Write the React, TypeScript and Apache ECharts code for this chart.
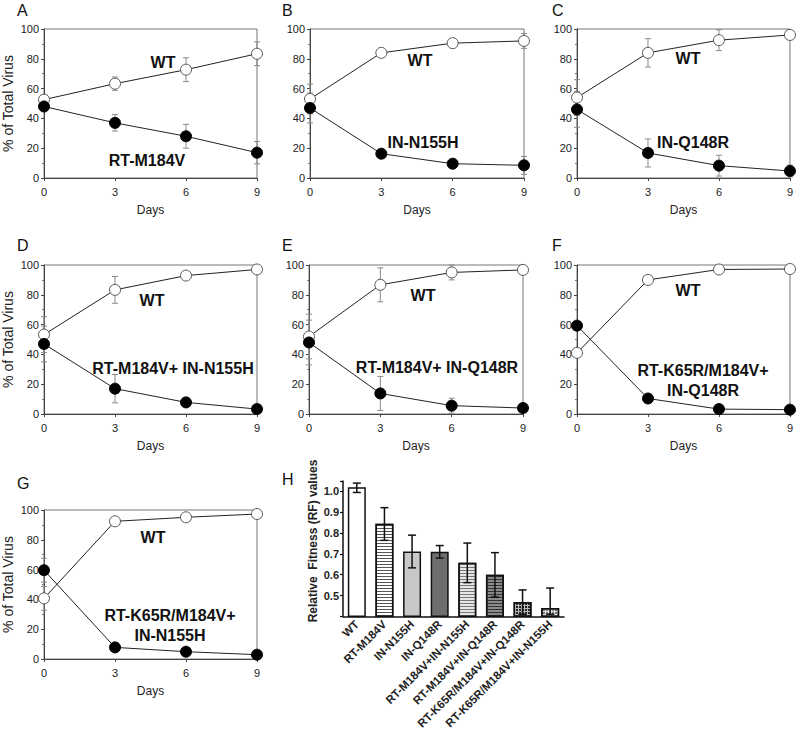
import React, { useEffect, useRef } from 'react';
import * as echarts from 'echarts';

// ---------- data ----------
const days = [0, 3, 6, 9];

const wtA = [52.6, 63.3, 72.7, 83.4];
const wtAErr = [3, 4.5, 8, 8];
const mutA = [48, 37, 28, 17];
const mutAErr = [3, 5.5, 8, 7.5];

const wtB = [53, 84, 90.5, 92];
const wtBErr = [10, 1, 2.5, 5];
const mutB = [47, 16.3, 9.6, 8.5];
const mutBErr = [10, 1.5, 2.5, 6];

const wtC = [54, 84, 92.5, 96];
const wtCErr = [12, 9.5, 7, 3];
const mutC = [46, 16.8, 8.3, 4.7];
const mutCErr = [12, 9.4, 7, 4];

const wtD = [53.3, 83.3, 92.9, 97];
const wtDErr = [12, 9, 1, 1];
const mutD = [47, 17, 7.8, 3.3];
const mutDErr = [12, 9.5, 1, 1];

const wtE = [52, 86.7, 95, 96.7];
const wtEErr = [15, 11.4, 5, 1];
const mutE = [48, 13.8, 5.6, 4];
const mutEErr = [15, 11.4, 5, 1];

const wtF = [41, 90, 97, 97.3];
const wtFErr = [0, 0, 0, 0];
const mutF = [59.3, 10.4, 3.3, 2.9];
const mutFErr = [0, 0, 0, 0];

const wtG = [40.7, 92.4, 95.1, 97.3];
const wtGErr = [8, 0, 0, 0];
const mutG = [59.6, 7.8, 4.9, 2.9];
const mutGErr = [8, 0, 0, 0];

const rfCategories = [
  'WT',
  'RT-M184V',
  'IN-N155H',
  'IN-Q148R',
  'RT-M184V+IN-N155H',
  'RT-M184V+IN-Q148R',
  'RT-K65R/M184V+IN-Q148R',
  'RT-K65R/M184V+IN-N155H',
];
const rfValues = [1.02, 0.845, 0.712, 0.71, 0.658, 0.6, 0.469, 0.44];
const rfLow = [0.995, 0.765, 0.633, 0.68, 0.562, 0.493, 0.41, 0.41];
const rfHigh = [1.04, 0.922, 0.79, 0.74, 0.752, 0.706, 0.527, 0.536];

// ---------- styles / layout ----------
const barStyles: any[] = [
  { color: '#ffffff' },
  { color: '#ffffff', decal: { symbol: 'rect', symbolSize: 1, dashArrayX: [1, 0], dashArrayY: [1, 2], rotation: 0, color: '#555' } },
  { color: '#c8c8c8' },
  { color: '#6e6e6e' },
  { color: '#e6e6e6', decal: { symbol: 'rect', symbolSize: 1, dashArrayX: [1, 0], dashArrayY: [1, 2], rotation: 0, color: '#777' } },
  { color: '#8a8a8a', decal: { symbol: 'rect', symbolSize: 1, dashArrayX: [1, 0], dashArrayY: [1, 2], rotation: 0, color: '#333' } },
  { color: '#bbbbbb', decal: { symbol: 'rect', symbolSize: 1, dashArrayX: [2, 1], dashArrayY: [2, 1], rotation: 0, color: '#222' } },
  { color: '#e0e0e0', decal: { symbol: 'rect', symbolSize: 1, dashArrayX: [2, 1], dashArrayY: [2, 1], rotation: 0, color: '#777' } },
];

type Panel = {
  letter: string;
  lx: number;
  ly: number;
  left: number;
  top: number;
  wt: number[];
  wtErr: number[];
  mut: number[];
  mutErr: number[];
  yName: boolean;
  wtPos: [number, number];
  mutLines: string[];
  mutPos: [number, number];
};

const PW = 214;
const PH = 149;

const panels: Panel[] = [
  { letter: 'A', lx: 17, ly: 2, left: 43, top: 29, wt: wtA, wtErr: wtAErr, mut: mutA, mutErr: mutAErr, yName: true, wtPos: [163, 62], mutLines: ['RT-M184V'], mutPos: [147, 160] },
  { letter: 'B', lx: 282, ly: 2, left: 310, top: 29, wt: wtB, wtErr: wtBErr, mut: mutB, mutErr: mutBErr, yName: false, wtPos: [420, 60], mutLines: ['IN-N155H'], mutPos: [423, 142] },
  { letter: 'C', lx: 552, ly: 2, left: 577, top: 29, wt: wtC, wtErr: wtCErr, mut: mutC, mutErr: mutCErr, yName: false, wtPos: [688, 58], mutLines: ['IN-Q148R'], mutPos: [693, 142] },
  { letter: 'D', lx: 17, ly: 237, left: 43, top: 265, wt: wtD, wtErr: wtDErr, mut: mutD, mutErr: mutDErr, yName: true, wtPos: [152, 300], mutLines: ['RT-M184V+ IN-N155H'], mutPos: [173, 368] },
  { letter: 'E', lx: 282, ly: 237, left: 309, top: 265, wt: wtE, wtErr: wtEErr, mut: mutE, mutErr: mutEErr, yName: false, wtPos: [423, 295], mutLines: ['RT-M184V+ IN-Q148R'], mutPos: [437, 367] },
  { letter: 'F', lx: 552, ly: 237, left: 577, top: 265, wt: wtF, wtErr: wtFErr, mut: mutF, mutErr: mutFErr, yName: false, wtPos: [688, 290], mutLines: ['RT-K65R/M184V+', 'IN-Q148R'], mutPos: [703, 370] },
  { letter: 'G', lx: 17, ly: 475, left: 43, top: 510, wt: wtG, wtErr: wtGErr, mut: mutG, mutErr: mutGErr, yName: true, wtPos: [153, 537], mutLines: ['RT-K65R/M184V+', 'IN-N155H'], mutPos: [170, 615] },
];

const NARROW = '"Liberation Sans Narrow", "Liberation Sans", Arial, sans-serif';
const SANS = '"Liberation Sans", Arial, sans-serif';

function errRender(color: string, cap: number, width: number) {
  return (params: any, api: any) => {
    const x = api.value(0);
    const lo = api.value(1);
    const hi = api.value(2);
    if (hi - lo <= 0) return { type: 'group', children: [] };
    const p1 = api.coord([x, hi]);
    const p2 = api.coord([x, lo]);
    const style = { stroke: color, lineWidth: width };
    return {
      type: 'group',
      children: [
        { type: 'line', shape: { x1: p1[0], y1: p1[1], x2: p2[0], y2: p2[1] }, style },
        { type: 'line', shape: { x1: p1[0] - cap, y1: p1[1], x2: p1[0] + cap, y2: p1[1] }, style },
        { type: 'line', shape: { x1: p2[0] - cap, y1: p2[1], x2: p2[0] + cap, y2: p2[1] }, style },
      ],
    };
  };
}

function buildOption(): any {
  const grid: any[] = [];
  const xAxis: any[] = [];
  const yAxis: any[] = [];
  const series: any[] = [];
  const graphic: any[] = [];

  panels.forEach((p, i) => {
    grid.push({ left: p.left, top: p.top, width: PW, height: PH, show: true, borderColor: '#777', borderWidth: 1, backgroundColor: 'transparent' });
    xAxis.push({
      gridIndex: i, type: 'value', min: 0, max: 9, interval: 3,
      name: 'Days', nameLocation: 'middle', nameGap: 26,
      nameTextStyle: { fontFamily: NARROW, fontSize: 12, color: '#222' },
      axisLine: { show: true, lineStyle: { color: '#444', width: 1 } },
      axisTick: { show: true, length: 3, lineStyle: { color: '#444' } },
      axisLabel: { fontFamily: NARROW, fontSize: 11, color: '#222', margin: 8 },
      splitLine: { show: false },
    });
    yAxis.push({
      gridIndex: i, type: 'value', min: 0, max: 100, interval: 20,
      name: p.yName ? '% of Total Virus' : '', nameLocation: 'middle', nameGap: 29,
      nameTextStyle: { fontFamily: SANS, fontSize: 14, color: '#222' },
      axisLine: { show: true, lineStyle: { color: '#444', width: 1 } },
      axisTick: { show: true, length: 3, lineStyle: { color: '#444' } },
      minorTick: { show: true, splitNumber: 2, length: 2, lineStyle: { color: '#777' } },
      axisLabel: { fontFamily: NARROW, fontSize: 11, color: '#222', margin: 5 },
      splitLine: { show: false },
    });
    const errData = (vals: number[], errs: number[]) =>
      days.map((d, j) => [d, Math.max(0, vals[j] - errs[j]), vals[j] + errs[j]]);
    series.push({
      type: 'custom', xAxisIndex: i, yAxisIndex: i, coordinateSystem: 'cartesian2d',
      data: errData(p.wt, p.wtErr), encode: { x: 0, y: [1, 2] }, z: 1,
      renderItem: errRender('#8a8a8a', 3, 1), silent: true,
    });
    series.push({
      type: 'custom', xAxisIndex: i, yAxisIndex: i, coordinateSystem: 'cartesian2d',
      data: errData(p.mut, p.mutErr), encode: { x: 0, y: [1, 2] }, z: 1,
      renderItem: errRender('#8a8a8a', 3, 1), silent: true,
    });
    series.push({
      type: 'line', xAxisIndex: i, yAxisIndex: i, z: 3,
      data: days.map((d, j) => [d, p.wt[j]]),
      symbol: 'circle', symbolSize: 11,
      itemStyle: { color: '#ffffff', borderColor: '#555', borderWidth: 1 },
      lineStyle: { color: '#222', width: 1 },
    });
    series.push({
      type: 'line', xAxisIndex: i, yAxisIndex: i, z: 3,
      data: days.map((d, j) => [d, p.mut[j]]),
      symbol: 'circle', symbolSize: 11,
      itemStyle: { color: '#000000', borderColor: '#000', borderWidth: 1 },
      lineStyle: { color: '#222', width: 1 },
    });

    graphic.push({ type: 'text', left: p.lx, top: p.ly, style: { text: p.letter, font: `16px ${SANS}`, fill: '#111' } });
    graphic.push({ type: 'text', x: p.wtPos[0], y: p.wtPos[1], style: { text: 'WT', font: `bold 16px ${SANS}`, fill: '#111', textAlign: 'center', textVerticalAlign: 'middle' } });
    p.mutLines.forEach((t, k) => {
      graphic.push({ type: 'text', x: p.mutPos[0], y: p.mutPos[1] + k * 20, style: { text: t, font: `bold 16px ${SANS}`, fill: '#111', textAlign: 'center', textVerticalAlign: 'middle' } });
    });
  });

  // Panel H
  const h = panels.length;
  grid.push({ left: 343, top: 481, width: 221, height: 146 });
  xAxis.push({
    gridIndex: h, type: 'category', data: rfCategories,
    axisLine: { show: true, lineStyle: { color: '#111', width: 1.5 } },
    axisTick: { show: false },
    axisLabel: { interval: 0, rotate: 45, fontFamily: SANS, fontSize: 11.5, fontWeight: 'bold', color: '#222', margin: 6 },
  });
  yAxis.push({
    gridIndex: h, type: 'value', min: 0.4, max: 1.05, interval: 0.1,
    axisLine: { show: true, lineStyle: { color: '#111', width: 1.5 } },
    axisTick: { show: true, length: 3, lineStyle: { color: '#111', width: 1.2 } },
    axisLabel: {
      fontFamily: SANS, fontSize: 11, fontWeight: 'bold', color: '#222', margin: 4,
      formatter: (v: number) => (v > 0.45 && v < 1.01 ? v.toFixed(1) : ''),
    },
    splitLine: { show: false },
  });
  series.push({
    type: 'bar', xAxisIndex: h, yAxisIndex: h, barWidth: 18, z: 2,
    data: rfValues.map((v, i) => ({ value: v, itemStyle: { ...barStyles[i], borderColor: '#111', borderWidth: 1.5 } })),
  });
  series.push({
    type: 'custom', xAxisIndex: h, yAxisIndex: h, coordinateSystem: 'cartesian2d', z: 4,
    data: rfValues.map((_, i) => [i, rfLow[i], rfHigh[i]]), encode: { x: 0, y: [1, 2] },
    renderItem: errRender('#111', 4, 1.5), silent: true,
  });
  graphic.push({ type: 'text', left: 282, top: 471, style: { text: 'H', font: `16px ${SANS}`, fill: '#111' } });
  graphic.push({
    type: 'text', x: 313, y: 541, rotation: Math.PI / 2,
    style: { text: 'Relative  Fitness (RF) values', font: `bold 12px ${SANS}`, fill: '#222', textAlign: 'center', textVerticalAlign: 'middle' },
  });

  return { animation: false, backgroundColor: '#ffffff', grid, xAxis, yAxis, series, graphic };
}

export default function App() {
  const ref = useRef<HTMLDivElement>(null);
  useEffect(() => {
    if (!ref.current) return;
    const chart = echarts.init(ref.current, null, { renderer: 'svg' });
    chart.setOption(buildOption());
    return () => chart.dispose();
  }, []);
  return <div ref={ref} style={{ position: 'fixed', left: 0, top: 0, width: 796, height: 732 }} />;
}
